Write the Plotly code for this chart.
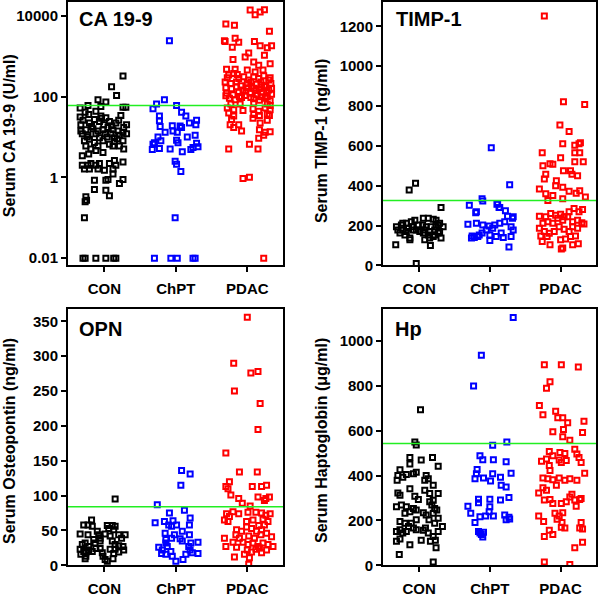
import plotly.graph_objects as go

categories = ["CON", "ChPT", "PDAC"]

# ---------------- CA 19-9 (U/ml), log axis ----------------
ca_con_jit = [0.26, 0.10, 0.17, -0.09, 0.02, -0.05, -0.23, -0.34, 0.26, 0.30, -0.27, -0.22, -0.12, -0.34, -0.05, 0.02,
              0.23, -0.33, -0.21, -0.14, -0.07, -0.01, 0.07, 0.16, 0.31, 0.27, -0.33, -0.26, -0.16, -0.09, -0.02, 0.05,
              0.12, 0.19, 0.26, -0.31, -0.23, -0.12, -0.07, 0.01, 0.09, 0.14, 0.21, 0.31, -0.28, -0.21, -0.14, -0.09,
              -0.02, 0.07, 0.14, 0.26, -0.26, -0.19, -0.12, 0.12, 0.21, 0.27, -0.22, -0.02, -0.31, -0.31, -0.23, -0.19,
              -0.12, -0.07, -0.28, -0.21, -0.09, 0.0, 0.12, 0.16, 0.26, 0.07, 0.14, -0.14, 0.02, 0.12, 0.05, 0.26,
              0.21, -0.14, 0.02, 0.07, -0.26, -0.25, -0.27, -0.28, -0.30, -0.27, -0.12, 0.02, 0.13, 0.16,
              -0.30, -0.18, -0.04, 0.10, 0.20, -0.24, 0.04, 0.18]
ca_con_val = [320, 175, 106, 83, 73, 57, 60, 52, 54, 54, 41, 36, 43, 31, 33, 30,
              34, 20, 22, 27, 24, 20, 24, 22, 20, 17, 14, 15, 16, 14, 15, 17,
              15, 14, 13, 12, 11, 12, 9.6, 12, 12, 9.6, 11, 12, 8, 8.8, 7.3, 6,
              8, 6.6, 7.7, 8, 6, 5, 4.6, 6, 6, 5, 3.8, 4.1, 3.4, 2.0, 2.0, 2.2,
              2.0, 2.2, 1.6, 1.6, 1.6, 1.5, 1.6, 2.0, 2.4, 2.2, 2.6, 0.85, 0.85, 1.2, 0.88, 0.88,
              0.7, 0.5, 0.48, 0.35, 0.33, 0.27, 0.25, 0.1, 0.01, 0.01, 0.01, 0.01, 0.01, 0.01,
              26, 18, 29, 19, 26, 10, 10, 9]

ca_chpt_jit = [-0.09, -0.16, -0.27, -0.32, 0.01, 0.08, 0.14, -0.23, -0.23, -0.22, -0.05, 0.06, 0.19, 0.29, 0.28,
               -0.15, -0.04, 0.02, 0.08, 0.27, 0.16, -0.25, -0.21, -0.30, -0.32, 0.01, 0.03, 0.29, -0.33, -0.23,
               -0.08, 0.09, 0.21, 0.24, 0.31, -0.01, 0.01, 0.07, -0.01, -0.30, -0.07, 0.02, 0.24, 0.27]
ca_chpt_val = [2400, 83, 65, 50, 60, 41, 33, 33, 25, 18, 19, 18.5, 22, 26, 20,
               13, 14, 13, 17, 11, 10, 10, 8, 7.2, 6.6, 8.3, 7.2, 7, 4.9, 5.2,
               5, 4.3, 4.9, 5.5, 5.7, 2.5, 2.1, 1.4, 0.1, 0.01, 0.01, 0.01, 0.01, 0.01]

ca_pdac_jit = [0.04, 0.11, 0.18, 0.24, -0.30, -0.18, 0.31, -0.32, -0.31, -0.17, -0.12, 0.10, -0.21, 0.18, 0.28, 0.34,
               0.02, -0.03, -0.20, 0.24, 0.09, 0.32, 0.16, -0.29, -0.17, 0.22, 0.0, 0.11,
               -0.26, -0.19, -0.12, -0.05, 0.02, 0.09, 0.16, 0.23, 0.30, 0.32,
               -0.31, -0.23, -0.15, -0.09, 0.0, 0.05, 0.13, 0.19, 0.25, 0.33,
               -0.30, -0.22, -0.15, -0.06, 0.0, 0.09, 0.17, 0.24, 0.30,
               -0.29, -0.20, -0.12, -0.03, 0.04, 0.14, 0.21, 0.28, 0.34,
               -0.25, -0.17, -0.08, 0.09, 0.17, 0.25, 0.32,
               -0.23, -0.10, 0.09, 0.28, 0.32,
               -0.28, -0.19, -0.06, 0.08, 0.16, 0.25, 0.32,
               -0.26, -0.19, 0.09, 0.17, 0.28, 0.31,
               -0.22, 0.08, 0.18, 0.28,
               -0.24, -0.19, -0.12, -0.08, 0.17, 0.25, 0.32, 0.23, 0.16, 0.03,
               -0.26, 0.15, -0.06, 0.03, 0.23,
               -0.28, -0.14, 0.06, 0.20, -0.02, 0.12, 0.27, -0.11, 0.05, 0.19, -0.30, 0.34]
ca_pdac_val = [13800, 10500, 12300, 14000, 6200, 5800, 4100, 2400, 2300, 2750, 2200, 2300, 1660, 1800, 1600, 1800,
               1200, 950, 830, 1050, 710, 650, 590, 470, 470, 450, 450, 405,
               340, 370, 280, 310, 255, 310, 280, 325, 255, 290,
               230, 210, 230, 185, 210, 230, 200, 230, 185, 210,
               165, 155, 175, 145, 165, 160, 155, 175, 145,
               120, 110, 128, 106, 120, 110, 128, 100, 114,
               91, 83, 95, 88, 81, 91, 78,
               65, 65, 69, 65, 60,
               52, 47, 45, 50, 43, 52, 47,
               39, 33, 36, 34, 37, 34,
               27, 29, 22, 26,
               20, 17, 20, 14, 15, 13, 13.5, 11, 9.3, 6.6,
               5, 5, 0.93, 1.0, 0.01,
               290, 350, 180, 190, 135, 140, 125, 100, 95, 98, 105, 160]

# ---------------- TIMP-1 (ng/ml) ----------------
timp_con_jit = [-0.32, -0.25, -0.18, -0.11, -0.06, -0.23, -0.15, -0.08, -0.27, -0.20, -0.13, -0.04, 0.06, 0.13, 0.20,
                0.24, 0.29, 0.34, 0.05, 0.10, 0.17, 0.22, 0.27, 0.06, 0.13, 0.20, 0.31, 0.08, 0.15, -0.13, -0.33,
                0.16, 0.31, -0.14, -0.05, -0.04, -0.30, 0.01, 0.29, -0.23, -0.01, 0.24, -0.18, -0.10, 0.08, 0.15,
                0.22, 0.27]
timp_con_val = [194, 203, 211, 219, 227, 178, 186, 178, 162, 153, 137, 178, 236, 236, 231,
                227, 211, 194, 203, 194, 194, 178, 162, 162, 153, 145, 137, 129, 137, 129, 104,
                100, 290, 379, 412, 10, 178, 170, 170, 211, 203, 194, 170, 194, 178, 170,
                153, 203]

timp_chpt_jit = [0.28, -0.11, -0.10, 0.11, 0.14, -0.29, -0.19, 0.22, 0.25, 0.32, -0.31, -0.19, -0.10, -0.01, 0.07,
                 0.14, 0.21, 0.30, -0.25, -0.22, -0.17, -0.26, -0.15, -0.11, -0.05, 0.0, 0.09, 0.16, 0.19, 0.30,
                 0.33, 0.27, 0.04, 0.0, 0.02, 0.10, 0.13, -0.20, 0.33]
timp_chpt_val = [405, 335, 323, 310, 290, 302, 269, 274, 247, 236, 206, 211, 203, 198, 203,
                 211, 219, 194, 148, 140, 145, 137, 153, 162, 178, 125, 145, 162, 140, 145,
                 178, 92, 186, 153, 590, 307, 290, 264, 244]

timp_pdac_jit = [-0.23, 0.04, 0.34, -0.01, 0.12, -0.26, 0.03, 0.26, 0.28, 0.20, 0.20, 0.27, -0.25, -0.15, -0.11,
                 0.0, 0.20, 0.32, -0.21, -0.23, -0.06, 0.04, 0.14, 0.16, 0.24, -0.30, -0.21, -0.11, -0.07, 0.03,
                 0.12, 0.27, 0.35, -0.18, 0.03, 0.22,
                 -0.30, -0.21, -0.14, -0.07, 0.0, 0.05, 0.12, 0.19, 0.26, 0.31,
                 -0.25, -0.18, -0.11, -0.04, 0.03, 0.10, 0.17, 0.24, 0.30, 0.17, 0.24,
                 -0.30, -0.23, -0.16, -0.09, -0.02, 0.05, 0.12,
                 -0.28, -0.19, 0.0, 0.07, 0.14, 0.21, 0.17, 0.03, 0.01, -0.26, 0.25, 0.33, -0.15]
timp_pdac_val = [1252, 821, 808, 705, 672, 565, 610, 610, 615, 603, 565, 565, 500, 510, 508,
                 540, 520, 520, 458, 433, 425, 475, 475, 458, 450, 384, 360, 351, 400, 392,
                 372, 375, 343, 326, 335, 362,
                 247, 244, 260, 252, 257, 244, 269, 285, 269, 280,
                 211, 219, 211, 236, 227, 244, 219, 227, 214, 194, 186,
                 186, 170, 161, 170, 194, 181, 170,
                 148, 145, 129, 132, 145, 148, 104, 87, 82, 120, 109, 208, 104]

# ---------------- OPN (ng/ml) ----------------
opn_con_jit = [0.15, -0.18, -0.29, -0.23, -0.17, -0.34, -0.23, -0.10, -0.08, 0.04, 0.11, 0.15, 0.06, 0.13,
               0.01, 0.08, 0.20, 0.29, 0.24, -0.06, -0.06, -0.15, -0.13, -0.31, -0.27, -0.22, -0.34, -0.29,
               -0.26, -0.22, -0.33, -0.26, -0.17, -0.12, -0.06, -0.03, -0.02, 0.01, 0.04, 0.11, 0.15, 0.20,
               0.26, 0.08, 0.15, 0.13, 0.20, 0.27, 0.12, -0.27]
opn_con_val = [95, 65, 58, 58, 56, 45, 44, 49, 44, 57, 57, 56, 53, 51,
               45, 42, 44, 44, 39, 39, 35, 37, 32, 30, 32, 27, 23, 20,
               18, 22, 16, 13, 20, 24, 24, 18, 13, 8.5, 6, 35, 30, 28,
               27, 23, 23, 17, 19, 22, 9.5, 9.5]

opn_chpt_jit = [0.08, 0.20, 0.07, -0.26, 0.12, -0.09, -0.29, -0.16, -0.04, 0.20, -0.10, -0.06, 0.01, 0.19,
                -0.15, -0.02, 0.09, 0.19, -0.14, -0.06, 0.06, 0.09, 0.31, 0.21, 0.18, -0.24, -0.19, -0.12,
                -0.14, -0.07, -0.20, -0.14, -0.05, 0.0, 0.10, 0.14, 0.20, 0.23, 0.31]
opn_chpt_val = [136, 131, 115, 87, 79, 75, 61, 63, 64, 68, 58, 56, 58, 58,
                46, 44, 49, 44, 37, 39, 38, 35, 33, 32, 27, 26, 22, 27,
                32, 20, 17, 16, 13, 6, 8.5, 16, 22, 18, 17]

opn_pdac_jit = [0.0, -0.19, 0.05, 0.15, -0.18, 0.18, 0.15, -0.30, -0.11, 0.14,
                -0.25, -0.30, -0.27, -0.23, -0.12, -0.07, 0.04, 0.07, 0.20, 0.27, 0.15, 0.26, 0.31, 0.24,
                -0.29, -0.20, -0.12, -0.25, -0.32, -0.27, 0.01, 0.12, 0.20, 0.26, 0.32,
                -0.01, 0.08, 0.22, 0.29,
                -0.15, -0.08, -0.01, 0.06, 0.13, 0.20, 0.27, 0.34, 0.16, 0.24,
                -0.16, -0.11, 0.02, 0.10, 0.19,
                -0.32, -0.20, -0.30, -0.15, -0.06, 0.01, 0.08, 0.15, 0.22, 0.29, 0.36,
                0.0, 0.06, 0.12, 0.20, 0.27, -0.04, 0.03, -0.18, 0.17, 0.02]
opn_pdac_val = [356, 290, 276, 278, 250, 232, 195, 161, 134, 134,
                120, 113, 110, 101, 96, 89, 85, 113, 113, 115, 98, 96, 98, 93,
                74, 77, 74, 70, 65, 63, 76, 76, 75, 72, 74,
                63, 65, 66, 63,
                51, 49, 55, 53, 49, 51, 46, 41, 57, 58,
                44, 39, 42, 39, 44,
                39, 33, 27, 26, 33, 30, 32, 27, 32, 30, 27,
                22, 19, 23, 18, 22, 16, 11, 12, 25, 1.4]

# ---------------- Hp (ug/ml) ----------------
hp_con_jit = [0.02, -0.06, -0.04,
              -0.13, 0.03, 0.19, -0.13, 0.27,
              -0.27, -0.30, -0.31, -0.23, -0.18, -0.08, -0.04,
              0.10, 0.08, 0.13, 0.20, 0.08, 0.15, 0.27, -0.13, -0.30, -0.27,
              -0.06, -0.01,
              -0.32, -0.25, -0.18, -0.08, -0.04, -0.13, -0.20,
              0.15, 0.20, 0.18, 0.22, 0.25, 0.20, 0.10, 0.06,
              0.27, 0.14, 0.22, -0.04, -0.11, -0.20, -0.15, -0.27,
              -0.32, -0.27, -0.23, -0.18, -0.08, -0.04, 0.06, 0.09, 0.13, 0.20, 0.27, 0.33,
              -0.32, -0.27, -0.13, 0.03, 0.16, 0.23, 0.24, -0.28, 0.20]
hp_con_val = [694, 550, 537,
              481, 470, 481, 452, 442,
              426, 401, 379, 393, 405, 408, 415,
              401, 379, 386, 357, 335, 320, 320, 342, 323, 313,
              308, 294,
              261, 269, 261, 254, 247, 239, 232,
              283, 290, 269, 254, 247, 232, 225, 235,
              210, 203, 188, 203, 188, 188, 173, 195,
              151, 159, 144, 151, 166, 159, 156, 166, 144, 129, 151, 173,
              107, 117, 92, 112, 107, 112, 78, 48, 15]

hp_chpt_jit = [0.33, -0.12, -0.23, 0.24, 0.04, -0.14, -0.10, 0.05, 0.23, -0.18, -0.19, -0.21, -0.09, 0.04,
               0.01, 0.15, 0.30, 0.16, 0.23, -0.16, 0.0, 0.15, 0.27, -0.31, -0.27, -0.16, 0.0, -0.01,
               -0.06, 0.05, -0.14, -0.21, 0.21, 0.27, 0.23, 0.28, -0.16, -0.14, -0.12, -0.10, -0.09]
hp_chpt_val = [1105, 937, 800, 550, 536, 489, 471, 471, 462, 427, 408, 386, 390, 408,
               376, 393, 411, 357, 349, 295, 295, 291, 302, 264, 232, 279, 261, 239,
               220, 220, 217, 191, 225, 214, 203, 207, 151, 144, 137, 126, 147]

hp_pdac_jit = [-0.23, 0.01, 0.25, -0.15, -0.20, -0.30,
               -0.25, -0.07, 0.03, 0.10, 0.33, -0.04, -0.11, 0.04, 0.31, 0.03, 0.13,
               -0.16, -0.27, -0.20, -0.11, -0.01, 0.06, 0.20, 0.23, 0.26, 0.29, -0.02, 0.01, 0.08, -0.16,
               -0.15, -0.25, -0.11, -0.02, 0.06, 0.13, 0.23, 0.34, -0.06, -0.18,
               -0.31, -0.25, -0.20, -0.23, -0.15, -0.11, 0.01, 0.08, 0.13, 0.16, 0.20, 0.27, 0.29, 0.22,
               -0.31, -0.24, -0.08, -0.02, 0.03, -0.05, 0.02, 0.01, 0.06, -0.23, -0.16, -0.11, 0.29, 0.27,
               0.31, 0.31, 0.20, -0.23, 0.13]
hp_pdac_val = [895, 895, 885, 819, 790, 713,
               672, 687, 658, 636, 643, 658, 596, 606, 592, 573, 558,
               508, 464, 474, 489, 503, 499, 518, 496, 481, 459, 470, 459, 467, 445,
               423, 390, 382, 390, 379, 386, 379, 411, 357, 386,
               323, 346, 335, 291, 294, 276, 276, 283, 305, 317, 291, 294, 298, 264,
               220, 195, 232, 220, 235, 206, 191, 170, 166, 129, 156, 137, 191, 166,
               162, 103, 78, 15, 4]

cutoffs = [60, 326, 84, 543]
panel_titles = ["CA 19-9", "TIMP-1", "OPN", "Hp"]
y_titles = ["Serum CA 19-9 (U/ml)", "Serum TIMP-1 (ng/ml)", "Serum Osteopontin (ng/ml)",
            "Serum Haptoglobin (\u03bcg/ml)"]

panels = [
    [(ca_con_jit, ca_con_val), (ca_chpt_jit, ca_chpt_val), (ca_pdac_jit, ca_pdac_val)],
    [(timp_con_jit, timp_con_val), (timp_chpt_jit, timp_chpt_val), (timp_pdac_jit, timp_pdac_val)],
    [(opn_con_jit, opn_con_val), (opn_chpt_jit, opn_chpt_val), (opn_pdac_jit, opn_pdac_val)],
    [(hp_con_jit, hp_con_val), (hp_chpt_jit, hp_chpt_val), (hp_pdac_jit, hp_pdac_val)],
]
group_colors = ["#000000", "#0000ff", "#ff0000"]

W, H = 600, 598
FONT = "Arial, 'Liberation Sans', sans-serif"

fig = go.Figure()
axis_ids = [("x", "y"), ("x2", "y2"), ("x3", "y3"), ("x4", "y4")]
for p, groups in enumerate(panels):
    xa, ya = axis_ids[p]
    for g, (jit, val) in enumerate(groups):
        fig.add_trace(go.Scatter(
            x=[g + 1 + j for j in jit], y=val, mode="markers", xaxis=xa, yaxis=ya,
            marker=dict(symbol="square-open", size=5, color=group_colors[g],
                        line=dict(width=2, color=group_colors[g])),
            showlegend=False, hoverinfo="skip"))
    fig.add_trace(go.Scatter(
        x=[0.3, 3.7], y=[cutoffs[p], cutoffs[p]], mode="lines", xaxis=xa, yaxis=ya,
        line=dict(color="#22ee22", width=1.5), showlegend=False, hoverinfo="skip"))

xdoms = [[68 / W, 283 / W], [383 / W, 596 / W]]
ydoms = [[1 - 269 / H, 1 - 2 / H], [1 - 573 / H, 1 - 313 / H]]

common_x = dict(range=[0.49, 3.5], tickmode="array", tickvals=[1, 2, 3], ticktext=categories,
                ticks="outside", ticklen=5, tickwidth=2, tickcolor="black",
                ticklabelstandoff=4,
                showline=True, linecolor="black", linewidth=2, mirror=True,
                showgrid=False, zeroline=False,
                tickfont=dict(family=FONT, size=15, color="black", weight="bold"))
common_y = dict(ticks="outside", ticklen=5, tickwidth=2, tickcolor="black",
                showline=True, linecolor="black", linewidth=2, mirror=True,
                showgrid=False, zeroline=False,
                tickfont=dict(family=FONT, size=15, color="black", weight="bold"))

layout = dict(width=W, height=H, margin=dict(l=0, r=0, t=0, b=0),
              paper_bgcolor="white", plot_bgcolor="white", showlegend=False)

yranges = [
    dict(type="log", range=[-2.18, 4.34], tickmode="array", tickvals=[0.01, 1, 100, 10000],
         ticktext=["0.01", "1", "100", "10000"]),
    dict(range=[0, 1322], tickmode="array", tickvals=[0, 200, 400, 600, 800, 1000, 1200]),
    dict(range=[0, 368], tickmode="array", tickvals=[0, 50, 100, 150, 200, 250, 300, 350]),
    dict(range=[0, 1144], tickmode="array", tickvals=[0, 200, 400, 600, 800, 1000]),
]

for p in range(4):
    r, c = divmod(p, 2)
    suffix = "" if p == 0 else str(p + 1)
    xd = dict(common_x, domain=xdoms[c], anchor="y" + suffix)
    yd = dict(common_y, domain=ydoms[r], anchor="x" + suffix)
    yd.update(yranges[p])
    layout["xaxis" + suffix] = xd
    layout["yaxis" + suffix] = yd

annotations = []
title_pos = [(77, 19), (394, 19), (77, 333), (393, 333)]
ytitle_pos = [(9, 138), (321, 143), (9, 447), (321, 447)]
for p in range(4):
    tx, ty = title_pos[p]
    annotations.append(dict(text=panel_titles[p], xref="paper", yref="paper",
                            x=tx / W, y=1 - ty / H, xanchor="left", yanchor="middle",
                            showarrow=False,
                            font=dict(family=FONT, size=20, color="black", weight="bold")))
    yx, yy = ytitle_pos[p]
    annotations.append(dict(text=y_titles[p], xref="paper", yref="paper",
                            x=yx / W, y=1 - yy / H, xanchor="center", yanchor="middle",
                            textangle=-90, showarrow=False,
                            font=dict(family=FONT, size=16, color="black", weight="bold")))
layout["annotations"] = annotations

fig.update_layout(**layout)
fig.write_html("out.html", config={"displayModeBar": False},
               post_script="document.body.style.margin='0';document.body.style.overflow='hidden';")
